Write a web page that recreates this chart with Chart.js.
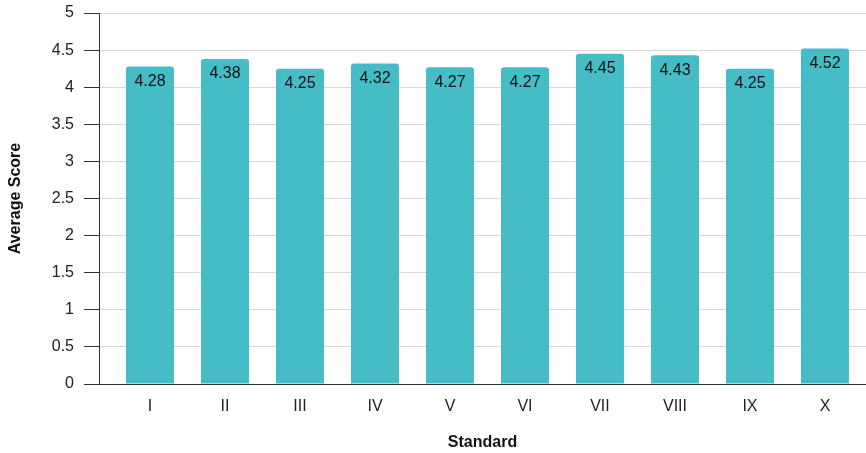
<!DOCTYPE html>
<html lang="en">
  <head>
    <meta charset="UTF-8" />
    <title>Average Score by Standard</title>
    <script src="https://cdn.jsdelivr.net/npm/chart.js"></script>
    <style>
      html, body {
        margin: 0;
        padding: 0;
        background: #ffffff;
      }
      .chart-container {
        position: relative;
        width: 866px;
        height: 453px;
      }
    </style>
  </head>
  <body>
    <div class="chart-container">
      <canvas id="scoreChart"></canvas>
    </div>

    <script>
      const standards = ["I", "II", "III", "IV", "V", "VI", "VII", "VIII", "IX", "X"];
      const averageScores = [4.28, 4.38, 4.25, 4.32, 4.27, 4.27, 4.45, 4.43, 4.25, 4.52];
      const yTicks = [0, 0.5, 1, 1.5, 2, 2.5, 3, 3.5, 4, 4.5, 5];

      const font = "'Liberation Sans', Arial, sans-serif";

      // value printed just inside the top of each bar
      const barValues = {
        id: "barValues",
        afterDatasetsDraw(chart) {
          const ctx = chart.ctx;
          const meta = chart.getDatasetMeta(0);
          ctx.save();
          ctx.font = "16px " + font;
          ctx.fillStyle = "#111";
          ctx.textAlign = "center";
          ctx.textBaseline = "middle";
          meta.data.forEach((bar, i) => {
            ctx.fillText(averageScores[i].toFixed(2), bar.x, bar.y + 15);
          });
          ctx.restore();
        },
      };

      const ctx = document.getElementById("scoreChart").getContext("2d");
      new Chart(ctx, {
        type: "bar",
        data: {
          datasets: [
            {
              label: "Average Score",
              data: averageScores.map((v, i) => ({ x: i, y: v })),
              backgroundColor: "#46BDC6",
              borderRadius: { topLeft: 3, topRight: 3 },
              borderSkipped: "bottom",
              barPercentage: 0.64,
              categoryPercentage: 1,
            },
          ],
        },
        options: {
          responsive: true,
          maintainAspectRatio: false,
          animation: false,
          layout: { padding: { top: 13, right: 0, left: 0, bottom: 0 } },
          plugins: {
            legend: { display: false },
            tooltip: { enabled: false },
          },
          scales: {
            x: {
              type: "linear",
              offset: false,
              min: -0.68,
              max: 9.547,
              afterBuildTicks: (scale) => {
                scale.ticks = standards.map((s, i) => ({ value: i }));
              },
              afterFit: (scale) => {
                scale.height = 69;
              },
              ticks: {
                stepSize: 1,
                includeBounds: false,
                padding: 5,
                color: "#222",
                font: { family: font, size: 16 },
                callback: (v) => standards[v] ?? "",
              },
              grid: { display: false },
              border: { display: true, color: "#333", width: 1 },
              title: {
                display: true,
                text: "Standard",
                color: "#111",
                font: { family: font, size: 16, weight: "bold" },
                padding: { top: 0, bottom: 1 },
              },
            },
            y: {
              min: 0,
              max: 5,
              afterBuildTicks: (scale) => {
                scale.ticks = yTicks.map((v) => ({ value: v }));
              },
              afterFit: (scale) => {
                scale.width = 99;
                scale.paddingTop = 0;
                scale.paddingBottom = 0;
              },
              ticks: {
                padding: 10,
                color: "#222",
                font: { family: font, size: 16 },
                callback: (v) => String(v),
              },
              grid: {
                color: "#d9d9d9",
                tickColor: "#333",
                tickLength: 15,
                lineWidth: 1,
              },
              border: { display: true, color: "#333", width: 1 },
              title: {
                display: true,
                text: "Average Score",
                color: "#111",
                font: { family: font, size: 16, weight: "bold" },
                padding: { top: 6, bottom: 0 },
              },
            },
          },
        },
        plugins: [barValues],
      });
    </script>
  </body>
</html>
